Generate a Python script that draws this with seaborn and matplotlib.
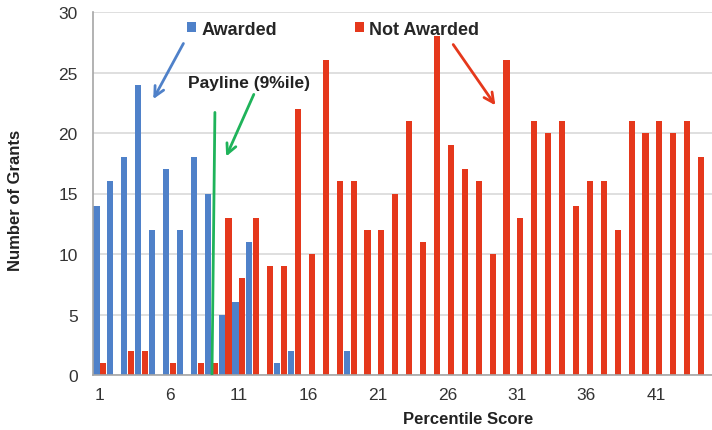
import numpy as np
import pandas as pd
import matplotlib
matplotlib.use("Agg")
import matplotlib.pyplot as plt
import seaborn as sns

# -------------------------------------------
# data (percentile 1..45)
# -------------------------------------------
percentiles = list(range(1, 46))
awarded = [14, 16, 18, 24, 12, 17, 12, 18, 15, 5, 6, 11, 0, 1, 2, 0, 0, 0, 2, 0,
           0, 0, 0, 0, 0, 0, 0, 0, 0, 0, 0, 0, 0, 0, 0, 0, 0, 0, 0, 0,
           0, 0, 0, 0, 0]
not_awarded = [1, 0, 2, 2, 0, 1, 0, 1, 1, 13, 8, 13, 9, 9, 22, 10, 26, 16, 16, 12,
               12, 15, 21, 11, 28, 19, 17, 16, 10, 26, 13, 21, 20, 21, 14, 16, 16, 12, 21, 20,
               21, 20, 21, 18, 18]
tick_labels = ["1", "6", "11", "16", "21", "26", "31", "36", "41", "46"]

df = pd.DataFrame({"Percentile": percentiles,
                   "Awarded": awarded,
                   "Not Awarded": not_awarded})
long_df = df.melt(id_vars="Percentile", var_name="Status", value_name="Grants")

BLUE = "#4F81C9"
RED = "#E5381C"
GREEN = "#1FB35A"

sns.set_style("white")
plt.rcParams["font.family"] = ["Liberation Sans", "DejaVu Sans"]

fig = plt.figure(figsize=(7.12, 4.31), dpi=100)
ax = fig.add_axes([93 / 712, 55 / 431, 695 / 712, 363 / 431])

sns.barplot(data=long_df, x="Percentile", y="Grants", hue="Status",
            palette={"Awarded": BLUE, "Not Awarded": RED},
            width=1.0, gap=0.12, saturation=1, linewidth=0,
            ax=ax, zorder=2)

# axes look
ax.set_xlim(-0.5, 49.5)
ax.set_ylim(0, 30)
ax.set_yticks(range(0, 31, 5))
ax.set_xticks(range(0, 46, 5))
ax.set_xticklabels(tick_labels)
ax.yaxis.grid(True, color="#d9d9d9", linewidth=1.2, zorder=0)
ax.set_axisbelow(True)
for s in ["top", "right"]:
    ax.spines[s].set_visible(False)
for s in ["left", "bottom"]:
    ax.spines[s].set_color("#a6a6a6")
    ax.spines[s].set_linewidth(1.2)
ax.tick_params(axis="y", length=0, pad=11, labelsize=12.5, labelcolor="#333333")
ax.tick_params(axis="x", length=0, pad=9, labelsize=12.5, labelcolor="#333333")

ax.set_xlabel("Percentile Score", fontsize=12, fontweight="bold", color="#222222")
ax.set_ylabel("Number of Grants", fontsize=12, fontweight="bold", color="#222222")
ax.xaxis.set_label_coords(0.54, -0.1)
ax.yaxis.set_label_coords(-0.1, 0.485)

# legend along the top
handles, labels = ax.get_legend_handles_labels()
ax.legend(handles, labels, loc="center left", bbox_to_anchor=(0.135, 0.953),
          ncol=2, frameon=False, borderpad=0, borderaxespad=0,
          handlelength=0.5, handleheight=0.5, handletextpad=0.3,
          columnspacing=4.3, prop={"weight": "bold", "size": 13})

# payline marker + arrows
PAYLINE = 9
ax.plot([PAYLINE - 0.73, PAYLINE - 0.94], [21.7, 0], color=GREEN, lw=2, zorder=3)
ax.text(6.33, 24.2, "Payline (9%ile)", fontsize=12.5, fontweight="bold",
        color="#222222", va="center", ha="left")

arrow = dict(arrowstyle="->,head_length=0.7,head_width=0.35", lw=2)
ax.annotate("", xy=(3.74, 22.6), xytext=(6.1, 27.6),
            arrowprops=dict(arrow, color=BLUE))
ax.annotate("", xy=(9.0, 17.85), xytext=(11.15, 23.4),
            arrowprops=dict(arrow, color=GREEN))
ax.annotate("", xy=(28.56, 22.1), xytext=(25.3, 27.5),
            arrowprops=dict(arrow, color=RED))

fig.savefig("out.png", dpi=100)
